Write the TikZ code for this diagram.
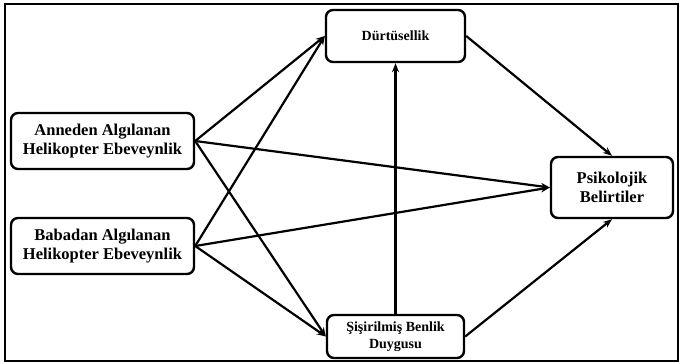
\documentclass[tikz,border=0pt]{standalone}
\usepackage{fontspec}
\setmainfont{Liberation Serif}
\usepackage{tikz}
\usetikzlibrary{arrows.meta}

\tikzset{box/.style={draw, line width=2.4pt, rounded corners=7pt, align=center, inner sep=0pt},
arr/.style={line width=2.2pt, -{Stealth[length=9pt,width=7pt]}}}

\begin{document}
\begin{tikzpicture}[x=1pt,y=-1pt]
\useasboundingbox (0,0) rectangle (679,363);
\draw [line width=1.2pt] (5,4) rectangle (678,361);
\node [box, minimum width=183pt, minimum height=56pt, font=\bfseries\fontsize{16.5}{18.5}\selectfont] (anne) at (102.5,141) {Anneden Algılanan\\Helikopter Ebeveynlik};
\node [box, minimum width=183pt, minimum height=56pt, font=\bfseries\fontsize{16.5}{18.5}\selectfont] (baba) at (102.5,246) {Babadan Algılanan\\Helikopter Ebeveynlik};
\node [box, minimum width=139pt, minimum height=52pt, font=\bfseries\fontsize{14}{17}\selectfont] (durt) at (395.5,36) {Dürtüsellik};
\node [box, minimum width=137pt, minimum height=43pt, font=\bfseries\fontsize{14}{17}\selectfont] (sisir) at (395.5,336.5) {Şişirilmiş Benlik\\Duygusu};
\node [box, minimum width=122pt, minimum height=61pt, font=\bfseries\fontsize{16.5}{19}\selectfont] (psiko) at (612,187.5) {Psikolojik\\Belirtiler};

\draw [arr] (anne.east) -- (durt.west);
\draw [arr] (baba.east) -- (durt.west);
\draw [arr] (anne.east) -- (psiko.west);
\draw [arr] (baba.east) -- (psiko.west);
\draw [arr] (anne.east) -- (sisir.west);
\draw [arr] (baba.east) -- (sisir.west);
\draw [arr] (sisir.north) -- (durt.south);
\draw [arr] (durt.east) -- (psiko.north);
\draw [arr] (sisir.east) -- (psiko.south);

\end{tikzpicture}
\end{document}
